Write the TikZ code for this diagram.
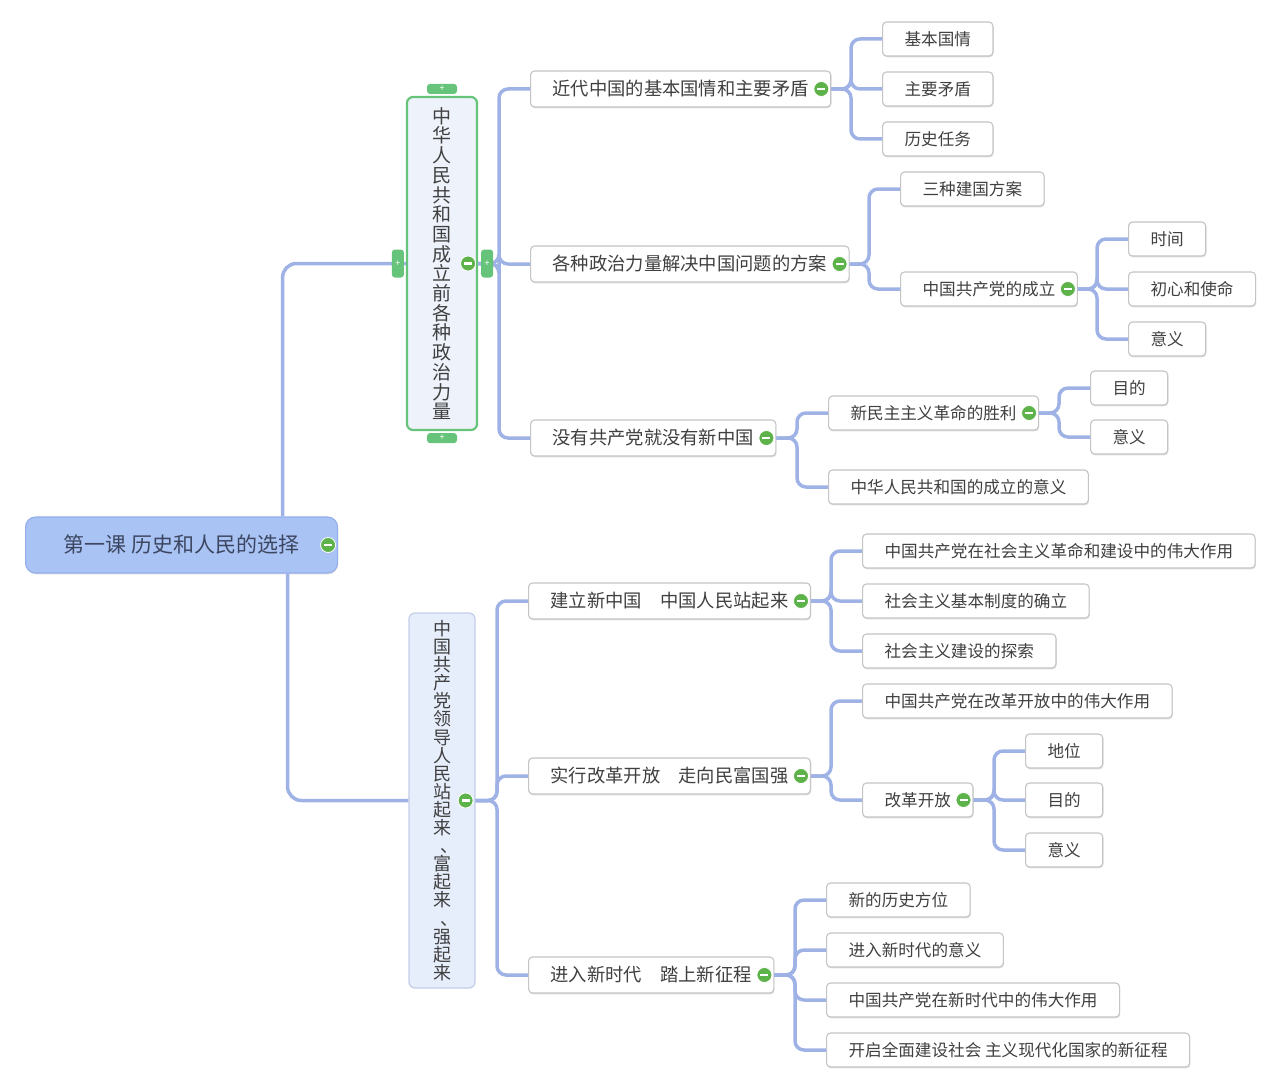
\documentclass[tikz,border=0pt]{standalone}
\usepackage{fontspec}
\setmainfont{Noto Sans CJK SC}
\usepackage{xcolor}
\usepackage{tikz}
\usetikzlibrary{shadows,calc}

\definecolor{cLine}{HTML}{9FB2E6}
\definecolor{cBorder}{HTML}{C4C4C4}
\definecolor{cText}{HTML}{404040}
\definecolor{cRoot}{HTML}{A9C3F5}
\definecolor{cRootBorder}{HTML}{93AEEA}
\definecolor{cRootText}{HTML}{3C4660}
\definecolor{cPaleA}{HTML}{EEF2FB}
\definecolor{cPaleB}{HTML}{E6EDFB}
\definecolor{cPaleBorder}{HTML}{C3CDE6}
\definecolor{cGreen}{HTML}{66C37A}
\definecolor{cSign}{HTML}{5DB24A}

\newcommand{\tightstack}{\lineskiplimit-20pt\relax}
% centred enumeration comma for the vertical column
\newcommand{\vcomma}{\makebox[1em][l]{\hspace{0.4em}、}}

\tikzstyle{tsBox} = [
    rectangle,
    rounded corners=4pt,
    draw=cBorder,
    line width=1.1pt,
    fill=white,
    text=cText,
    inner xsep=22pt,
    inner ysep=0pt,
    anchor=west,
    drop shadow={shadow xshift=0.6pt, shadow yshift=-1.4pt, fill=black, opacity=0.12}
]
\tikzstyle{tsMain} = [
    tsBox,
    minimum height=36pt,
    font=\fontsize{18.3}{22}\selectfont
]
\tikzstyle{tsSub} = [
    tsBox,
    minimum height=34pt,
    font=\fontsize{16.6}{20}\selectfont
]
\tikzstyle{tsColumn} = [
    rectangle,
    rounded corners=6pt,
    text=cText,
    align=center,
    inner sep=0pt
]
\tikzstyle{tsLink} = [
    draw=cLine,
    line width=3.5pt,
    rounded corners=9pt
]
\tikzstyle{tsHandle} = [
    rectangle,
    rounded corners=3pt,
    fill=cGreen,
    inner sep=0pt,
    text=white,
    font=\fontsize{9}{9}\selectfont
]
\tikzstyle{tsSign} = [
    circle,
    fill=cSign,
    draw=white,
    line width=0.8pt,
    minimum size=15pt,
    inner sep=0pt,
    path picture={\draw[white, line width=2.2pt]
        ([xshift=-4pt]path picture bounding box.center) --
        ([xshift=4pt]path picture bounding box.center);}
]

\newcommand{\foldsign}[1]{\node[tsSign] at ([xshift=-10pt]#1.east) {};}
\newcommand{\branch}[2]{\draw[tsLink] (#1.east) -| ([xshift=-31pt]#2.west) -- (#2.west);}

\begin{document}
\begin{tikzpicture}[x=1pt, y=-1pt]

        \useasboundingbox (0,0) rectangle (1280,1089);

        % root
        \node[  tsBox,
                fill=cRoot,
                draw=cRootBorder,
                rounded corners=10pt,
                minimum width=312pt,
                minimum height=56pt,
                inner xsep=0pt,
                text=cRootText,
                font=\fontsize{21}{24}\selectfont] (lesson) at (25,545) {第一课 历史和人民的选择};

        % two column topics
        \node[  tsColumn,
                fill=cPaleA,
                draw=cGreen,
                line width=2.2pt,
                minimum width=70pt,
                minimum height=333pt,
                font=\fontsize{19}{19.7}\selectfont\tightstack] (forces) at (442,263.5)
                {中\\华\\人\\民\\共\\和\\国\\成\\立\\前\\各\\种\\政\\治\\力\\量};
        \node[  tsColumn,
                fill=cPaleB,
                draw=cPaleBorder,
                line width=1.2pt,
                minimum width=66pt,
                minimum height=375pt,
                font=\fontsize{18}{18.1}\selectfont\tightstack] (party) at (442,800.5)
                {中\\国\\共\\产\\党\\领\\导\\人\\民\\站\\起\\来\\\vcomma\\富\\起\\来\\\vcomma\\强\\起\\来};

        % first branch
        \node[tsMain] (fa) at (530,89)  {近代中国的基本国情和主要矛盾};
        \node[tsMain] (fb) at (530,264) {各种政治力量解决中国问题的方案};
        \node[tsMain] (fc) at (530,438) {没有共产党就没有新中国};

        \node[tsSub] (fa1) at (882,39)  {基本国情};
        \node[tsSub] (fa2) at (882,89)  {主要矛盾};
        \node[tsSub] (fa3) at (882,139) {历史任务};

        \node[tsSub] (fb1) at (900,189) {三种建国方案};
        \node[tsSub] (fb2) at (900,289) {中国共产党的成立};
        \node[tsSub] (fb21) at (1128,239) {时间};
        \node[tsSub] (fb22) at (1128,289) {初心和使命};
        \node[tsSub] (fb23) at (1128,339) {意义};

        \node[tsSub] (fc1) at (828,413) {新民主主义革命的胜利};
        \node[tsSub] (fc2) at (828,487) {中华人民共和国的成立的意义};
        \node[tsSub] (fc11) at (1090,388) {目的};
        \node[tsSub] (fc12) at (1090,437) {意义};

        % second branch
        \node[tsMain] (pa) at (528,601) {建立新中国　中国人民站起来};
        \node[tsMain] (pb) at (528,776) {实行改革开放　走向民富国强};
        \node[tsMain] (pc) at (528,975) {进入新时代　踏上新征程};

        \node[tsSub] (pa1) at (862,551) {中国共产党在社会主义革命和建设中的伟大作用};
        \node[tsSub] (pa2) at (862,601) {社会主义基本制度的确立};
        \node[tsSub] (pa3) at (862,651) {社会主义建设的探索};

        \node[tsSub] (pb1) at (862,701) {中国共产党在改革开放中的伟大作用};
        \node[tsSub] (pb2) at (862,800) {改革开放};
        \node[tsSub] (pb21) at (1025,751) {地位};
        \node[tsSub] (pb22) at (1025,800) {目的};
        \node[tsSub] (pb23) at (1025,850) {意义};

        \node[tsSub] (pc1) at (826,900)  {新的历史方位};
        \node[tsSub] (pc2) at (826,950)  {进入新时代的意义};
        \node[tsSub] (pc3) at (826,1000) {中国共产党在新时代中的伟大作用};
        \node[tsSub] (pc4) at (826,1050) {开启全面建设社会 主义现代化国家的新征程};

        % connectors
        \draw[tsLink, rounded corners=14pt] ([xshift=101pt]lesson.north) |- (forces.west);
        \draw[tsLink, rounded corners=14pt] ([xshift=106pt]lesson.south) |- (party.west);

        \branch{forces}{fa} \branch{forces}{fb} \branch{forces}{fc}
        \branch{fa}{fa1} \branch{fa}{fa2} \branch{fa}{fa3}
        \branch{fb}{fb1} \branch{fb}{fb2}
        \branch{fb2}{fb21} \branch{fb2}{fb22} \branch{fb2}{fb23}
        \branch{fc}{fc1} \branch{fc}{fc2}
        \branch{fc1}{fc11} \branch{fc1}{fc12}

        \branch{party}{pa} \branch{party}{pb} \branch{party}{pc}
        \branch{pa}{pa1} \branch{pa}{pa2} \branch{pa}{pa3}
        \branch{pb}{pb1} \branch{pb}{pb2}
        \branch{pb2}{pb21} \branch{pb2}{pb22} \branch{pb2}{pb23}
        \branch{pc}{pc1} \branch{pc}{pc2} \branch{pc}{pc3} \branch{pc}{pc4}

        % handles of the selected topic
        \node[tsHandle, minimum width=30pt, minimum height=10pt] (hTop) at ([yshift=7pt]forces.north) {+};
        \node[tsHandle, minimum width=30pt, minimum height=10pt] (hBottom) at ([yshift=-7pt]forces.south) {+};
        \node[tsHandle, minimum width=12pt, minimum height=28pt] (hLeft) at ([xshift=-8pt]forces.west) {+};
        \node[tsHandle, minimum width=12pt, minimum height=28pt] (hRight) at ([xshift=9pt]forces.east) {+};

        % fold signs
        \foldsign{lesson}
        \foldsign{forces} \foldsign{party}
        \foldsign{fa} \foldsign{fb} \foldsign{fc}
        \foldsign{fb2} \foldsign{fc1}
        \foldsign{pa} \foldsign{pb} \foldsign{pc}
        \foldsign{pb2}

\end{tikzpicture}
\end{document}
